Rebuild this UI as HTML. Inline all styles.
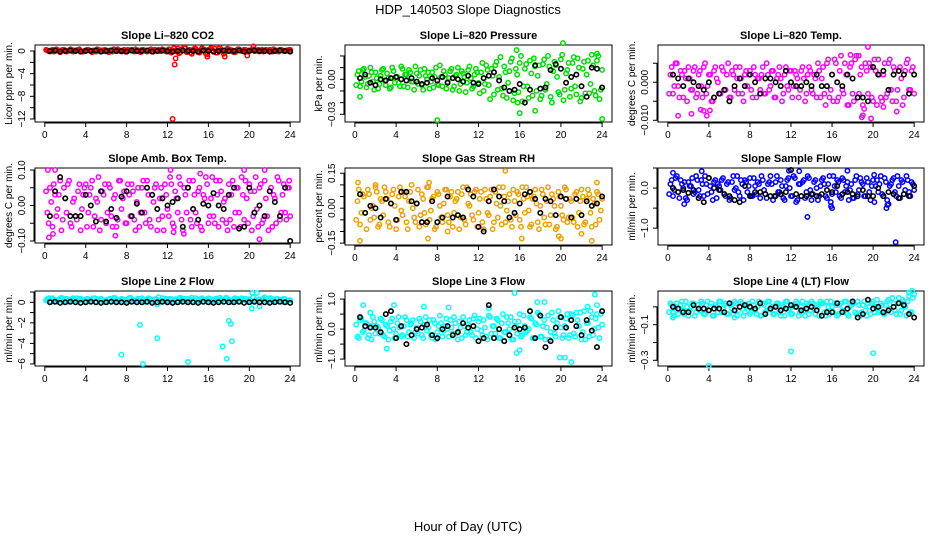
<!DOCTYPE html>
<html><head><meta charset="utf-8">
<style>
html,body{margin:0;padding:0;background:#fff;}
svg{display:block;font-family:"Liberation Sans",sans-serif;}
</style></head>
<body>
<svg id="chart" width="936" height="540" viewBox="0 0 936 540" xmlns="http://www.w3.org/2000/svg">
<text x="468" y="14" font-size="13" text-anchor="middle">HDP_140503  Slope Diagnostics</text>
<text x="468" y="531" font-size="13" text-anchor="middle">Hour of Day (UTC)</text>
</svg>
<script>
// ---------- shared hours ----------
const colorHours=[0.25,0.5,0.75,1,1.25,1.5,1.75,2,2.25,2.5,2.75,3,3.25,3.5,3.75,4,4.25,4.5,4.75,5,5.25,5.5,5.75,6,6.25,6.5,6.75,7,7.25,7.5,7.75,8,8.25,8.5,8.75,9,9.25,9.5,9.75,10,10.25,10.5,10.75,11,11.25,11.5,11.75,12,12.25,12.5,12.75,13,13.25,13.5,13.75,14,14.25,14.5,14.75,15,15.25,15.5,15.75,16,16.25,16.5,16.75,17,17.25,17.5,17.75,18,18.25,18.5,18.75,19,19.25,19.5,19.75,20,20.25,20.5,20.75,21,21.25,21.5,21.75,22,22.25,22.5,22.75,23,23.25,23.5,23.75,24];
const colorHours2=[0.125,0.375,0.625,0.875,1.125,1.375,1.625,1.875,2.125,2.375,2.625,2.875,3.125,3.375,3.625,3.875,4.125,4.375,4.625,4.875,5.125,5.375,5.625,5.875,6.125,6.375,6.625,6.875,7.125,7.375,7.625,7.875,8.125,8.375,8.625,8.875,9.125,9.375,9.625,9.875,10.125,10.375,10.625,10.875,11.125,11.375,11.625,11.875,12.125,12.375,12.625,12.875,13.125,13.375,13.625,13.875,14.125,14.375,14.625,14.875,15.125,15.375,15.625,15.875,16.125,16.375,16.625,16.875,17.125,17.375,17.625,17.875,18.125,18.375,18.625,18.875,19.125,19.375,19.625,19.875,20.125,20.375,20.625,20.875,21.125,21.375,21.625,21.875,22.125,22.375,22.625,22.875,23.125,23.375,23.625,23.875];
const blackHours=[0.5,1,1.5,2,2.5,3,3.5,4,4.5,5,5.5,6,6.5,7,7.5,8,8.5,9,9.5,10,10.5,11,11.5,12,12.5,13,13.5,14,14.5,15,15.5,16,16.5,17,17.5,18,18.5,19,19.5,20,20.5,21,21.5,22,22.5,23,23.5,24];
const xTickValues=[0,4,8,12,16,20,24];

// ---------- CO2 ----------
const co2Vals=[0.1,-0.1,0.2,0,0.1,-0.2,0.2,0.1,0,0.3,-0.1,0.1,0.2,0,-0.1,0.1,0.2,0,0.1,-0.1,0.2,0.1,0,0.1,-0.2,0.1,0.3,0,0.1,-0.1,0.2,0,0.1,0.2,-0.1,0.1,0,0.2,0.1,-0.1,0.1,0,0.2,0.1,0,0.3,0.1,-0.1,0.2,0.1,0,0.4,-0.2,0.1,0.5,0,-0.3,0.2,0.4,-0.2,0.1,0.3,-0.4,0.2,0.5,0,-0.3,0.4,0.1,-0.5,0.2,0.3,0,-0.2,0.1,0.3,0,0.2,-0.1,0.1,0.2,0,0.1,-0.1,0.2,0,0.1,0.2,-0.1,0.1,0,0.2,0.1,0,0.1,0.2];
const co2Vals2=[0.2,0,0.1,-0.1,0.3,0.1,0,0.2,-0.1,0.1,0.2,0,0.1,0.3,-0.1,0,0.2,0.1,-0.2,0.1,0.3,0,0.1,0.2,0,0.1,-0.1,0.2,0.3,0,0.1,-0.1,0.2,0.1,0,0.3,0.1,-0.2,0.2,0,0.1,0.3,-0.1,0.1,0.2,0,0.1,-0.1,0.3,-0.3,0.5,0.1,-0.4,0.3,0.6,-0.2,0.2,-0.5,0.4,0.1,-0.3,0.5,0.2,-0.6,0.3,0.1,0.4,-0.3,0.6,0.0,-0.2,0.4,0.2,0.1,-0.2,0.3,0.1,0,0.2,-0.1,0.1,0.3,0,0.2,0.1,-0.1,0.2,0.1,0,0.3,0.1,-0.1,0.2,0,0.1,0.2];
const co2Black=[0,0.1,-0.1,0,0.1,0,-0.1,0,0,0.1,-0.1,0,0.1,0,0,-0.1,0.1,0,0,0.1,-0.1,0,0.1,0,-0.1,0,0.1,0,0,-0.1,0.1,0,-0.1,0,0.1,0,0,0.1,-0.1,0,0.1,0,0,-0.1,0,0.1,0,-0.1];
const co2OutHours=[12.5,12.7,12.8,15.9,17.6,19.8,20.4];
const co2OutVals=[-12,-2.4,-1.3,-1.0,-1.0,-0.8,0.8];
// ---------- Pressure ----------
const presVals=[0.004,-0.006,0.008,0.002,-0.004,0.01,-0.002,0.006,-0.008,0.003,0.009,-0.005,0.001,-0.007,0.007,0.002,-0.003,0.011,-0.006,0.004,0.008,-0.002,-0.009,0.005,0.003,-0.005,0.009,0,-0.008,0.006,0.002,-0.004,0.012,-0.006,0.004,-0.002,0.007,-0.009,0.003,0.01,-0.004,0.005,-0.011,0.008,0.001,-0.006,0.009,-0.003,0.006,-0.01,0.012,-0.005,0.009,-0.013,0.015,0.002,-0.008,0.011,-0.016,0.007,0.018,-0.012,0.004,0.014,-0.019,0.009,-0.006,0.016,-0.014,0.011,0.003,-0.017,0.013,-0.009,0.02,-0.015,0.007,0.012,-0.011,0.017,-0.018,0.005,0.014,-0.008,0.019,-0.013,0.01,-0.016,0.015,0.004,-0.012,0.021,-0.01,0.016,-0.017,0.008];
const presVals2=[-0.005,0.007,-0.002,0.009,-0.007,0.003,0.006,-0.009,0.001,-0.004,0.008,-0.001,0.005,-0.008,0.01,-0.003,0.002,-0.006,0.009,0.004,-0.007,0.006,-0.002,0.011,-0.004,0.008,-0.009,0.003,0.006,-0.002,-0.007,0.01,-0.005,0.002,0.007,-0.008,0.001,0.009,-0.006,0.004,-0.01,0.007,0.002,-0.003,0.011,-0.008,0.004,0.006,-0.012,0.014,-0.004,0.008,-0.017,0.003,0.012,-0.009,0.019,-0.014,0.006,-0.003,0.015,-0.018,0.009,-0.011,0.02,-0.006,0.013,-0.016,0.005,0.018,-0.01,0.012,-0.014,0.017,-0.004,0.011,-0.02,0.015,0.002,-0.013,0.021,-0.009,0.008,-0.015,0.014,-0.006,0.018,-0.019,0.009,-0.012,0.016,-0.004,0.012,-0.014,0.02,-0.009];
const presBlack=[0.001,0.004,-0.003,-0.005,0,-0.001,0.001,0.002,0,-0.001,0.001,-0.002,-0.004,-0.003,0.001,-0.001,0.002,-0.003,0.001,0,-0.002,0.003,-0.003,-0.004,0.001,0.003,0.006,-0.001,-0.007,-0.01,-0.009,-0.004,-0.02,-0.009,0.012,-0.008,-0.007,0.008,0.013,0.009,-0.003,0.002,0.004,-0.006,-0.015,0.01,0.009,-0.007];
const presOutHours=[8,15.8,16,17.5,15.7,20.2,24,0.5,23.5];
const presOutVals=[-0.035,-0.02,-0.029,-0.027,0.025,0.031,-0.034,-0.015,0.022];
// ---------- Li-820 Temp ----------
const tempVals=[0.002,-0.003,0.005,-0.001,0.003,-0.004,0.001,0.004,-0.002,0.003,-0.004,0.002,-0.001,0.004,-0.003,0.002,-0.005,0.003,0.001,-0.003,0.004,-0.002,0.002,-0.004,0.003,-0.002,0.001,0.004,-0.003,0.002,-0.001,0.003,-0.004,0.002,0.001,-0.002,0.004,-0.003,0.002,-0.001,0.003,-0.004,0.002,0.001,-0.003,0.004,-0.002,0.003,-0.001,0.002,-0.004,0.003,0.001,-0.003,0.004,-0.002,0.002,-0.004,0.003,0.001,-0.003,0.005,-0.004,0.002,0.006,-0.005,0.003,-0.002,0.005,-0.006,0.004,-0.003,0.006,-0.004,0.002,-0.006,0.005,-0.003,0.004,-0.005,0.003,0.006,-0.004,0.002,-0.004,0.005,-0.002,0.004,-0.005,0.003,0.001,-0.004,0.005,-0.002,0.003,-0.003];
const tempVals2=[-0.003,0.004,-0.001,0.005,-0.004,0.002,0.003,-0.005,0.001,-0.002,0.004,-0.003,0.003,-0.004,0.005,-0.001,0.002,-0.005,0.004,0.0,-0.003,0.003,-0.002,0.005,-0.004,0.002,0.004,-0.003,0.001,-0.005,0.003,0.002,-0.002,0.004,-0.004,0.001,0.002,-0.003,0.005,-0.002,0.003,-0.004,0.001,0.004,-0.005,0.002,-0.001,0.003,-0.004,0.003,0.001,-0.002,0.004,-0.005,0.002,0.003,-0.003,0.001,0.005,-0.004,0.004,-0.006,0.006,-0.002,-0.005,0.005,-0.004,0.007,-0.003,0.002,-0.006,0.005,-0.005,0.007,-0.003,0.004,-0.007,0.003,0.005,-0.004,0.006,-0.006,0.002,-0.005,0.005,-0.003,0.006,-0.005,0.003,-0.002,0.004,-0.006,0.003,0.006,-0.002,0.004];
const tempBlack=[0.002,0.001,-0.001,0.001,0.0,-0.001,-0.002,0.0,-0.004,-0.003,-0.002,-0.005,-0.001,0.001,-0.001,0.002,0.0,-0.003,0.001,0.001,0.0,-0.001,0.003,0.0,-0.001,-0.001,0.0,-0.001,0.002,-0.001,-0.001,0.002,0.0,-0.001,0.002,0.001,-0.004,-0.004,-0.005,0.004,0.002,0.003,-0.002,0.002,0.003,0.002,-0.003,0.002];
const tempOutHours=[1,2.3,3.2,3.5,3.8,4.1,19,18.9,19.8,19.5,18.6,21,22.3,17.8];
const tempOutVals=[-0.0088,-0.0083,-0.0072,-0.0075,-0.0088,-0.0074,-0.0087,-0.0092,-0.0095,0.0093,0.007,-0.0065,-0.0077,0.0072];
// ---------- Amb Box Temp ----------
const ambVals=[-0.02,0.05,-0.06,0.03,-0.01,0.07,-0.04,0.02,0.06,-0.05,0.01,-0.03,0.04,-0.07,0.03,0.06,-0.02,0.05,-0.06,0.02,0.08,-0.04,0.03,-0.05,0.06,-0.03,0.02,-0.06,0.07,-0.01,0.04,-0.05,0.03,0.06,-0.04,0.01,-0.06,0.05,-0.02,0.07,-0.04,0.03,0.05,-0.07,0.02,-0.03,0.06,-0.01,0.08,-0.05,0.04,-0.02,0.06,-0.07,0.03,0.05,-0.04,0.07,-0.02,0.04,-0.06,0.03,0.08,-0.05,0.02,-0.03,0.07,-0.06,0.04,0.01,-0.05,0.06,0.03,-0.06,0.05,-0.02,0.08,-0.04,0.02,0.06,-0.07,0.04,-0.01,0.05,-0.05,0.07,-0.03,0.04,-0.06,0.02,0.08,-0.04,0.03,-0.02,0.05,-0.03];
const ambVals2=[0.04,-0.05,0.01,0.06,-0.03,0.03,-0.07,0.05,-0.02,0.07,-0.06,0.02,-0.04,0.06,-0.01,0.05,-0.06,0.03,0.07,-0.03,0.01,-0.07,0.04,0.06,-0.02,0.05,-0.06,0.03,-0.04,0.07,0.02,-0.05,0.06,-0.03,0.04,-0.07,0.05,-0.02,0.07,-0.05,0.03,-0.06,0.01,0.06,-0.04,0.05,-0.07,0.03,-0.03,0.06,-0.06,0.02,0.08,-0.04,0.05,-0.02,0.07,-0.06,0.03,-0.05,0.05,-0.07,0.02,0.06,-0.03,0.08,-0.05,0.03,0.07,-0.04,0.02,-0.07,-0.04,0.07,-0.02,0.05,-0.06,0.03,0.07,-0.05,0.04,-0.03,0.08,-0.06,0.06,-0.04,0.02,-0.07,0.05,0.03,-0.05,0.07,-0.02,0.06,-0.04,0.05];
const ambBlack=[-0.03,0.04,0.08,0.02,-0.03,-0.03,-0.03,0.03,0.0,-0.045,0.04,-0.045,-0.01,-0.035,0.025,0.04,-0.03,0.005,-0.02,0.05,0.03,-0.01,0.02,0.0,0.01,0.02,-0.06,0.05,-0.01,-0.04,0.005,0.0,0.035,0.0,-0.01,0.03,0.05,-0.065,-0.06,0.05,-0.02,0.0,-0.03,0.04,0.01,-0.03,0.05,-0.1];
const ambOutHours=[0.4,0.8,1,6.9,12.3,12.6,13.6,15.2,19.5,21,21.5,23.9,0.3];
const ambOutVals=[-0.09,-0.08,0.1,-0.085,0.1,-0.075,-0.08,0.09,0.1,-0.095,0.1,0.07,0.1];
// ---------- Gas Stream RH ----------
const rhVals=[0.03,-0.07,0.06,-0.02,0.08,-0.05,0.01,0.09,-0.08,0.04,-0.03,0.07,-0.06,0.02,0.08,-0.09,0.05,-0.01,0.07,-0.06,0.03,0.1,-0.04,0.02,-0.08,0.06,-0.02,0.09,-0.05,0.04,-0.09,0.07,0.01,-0.06,0.08,-0.03,0.05,-0.08,0.03,0.07,-0.04,0.09,-0.07,0.02,0.06,-0.05,0.08,-0.02,0.07,-0.09,0.04,-0.03,0.08,-0.06,0.02,0.09,-0.07,0.05,-0.01,0.06,-0.08,0.03,0.07,-0.05,0.09,-0.02,0.05,-0.08,0.04,0.08,-0.06,0.01,0.06,-0.07,0.09,-0.03,0.04,-0.09,0.07,0.01,-0.05,0.08,-0.04,0.03,-0.06,0.07,-0.02,0.08,-0.07,0.04,0.06,-0.08,0.02,0.07,-0.05,0.04];
const rhVals2=[-0.05,0.08,-0.02,0.05,-0.09,0.06,0.0,-0.04,0.07,-0.07,0.03,0.09,0.04,-0.08,0.06,0.01,-0.05,0.09,-0.03,0.05,-0.09,0.07,0.0,-0.06,0.08,-0.03,0.04,-0.07,0.09,-0.01,0.05,-0.08,0.06,-0.04,0.02,0.08,-0.06,0.07,-0.02,0.04,-0.09,0.06,-0.05,0.09,0.01,-0.03,0.07,-0.08,0.04,-0.06,0.08,-0.02,0.05,-0.09,0.07,-0.04,0.01,0.09,-0.06,0.03,-0.05,0.08,-0.03,0.06,-0.08,0.04,0.09,-0.01,-0.07,0.05,0.02,-0.09,0.08,-0.04,0.03,-0.07,0.06,0.01,-0.08,0.05,-0.03,0.09,-0.06,0.04,-0.04,0.06,-0.08,0.03,0.05,-0.06,0.08,-0.02,0.04,-0.07,0.06,-0.01];
const rhBlack=[0.06,-0.02,0.01,0.0,-0.04,0.04,0.02,-0.05,0.07,0.07,0.03,0.02,-0.06,-0.06,0.03,-0.06,-0.04,0.05,-0.04,-0.03,-0.04,0.08,0.05,-0.08,-0.1,0.03,0.08,0.05,0.03,-0.04,-0.02,0.02,0.06,0.07,0.04,-0.02,0.04,0.03,-0.03,0.05,0.04,-0.04,0.04,-0.03,0.03,0.01,0.02,0.05];
const rhOutHours=[0.3,0.5,2,7.2,7.1,14.6,16.2,19.8,22,23,23.5,20,9];
const rhOutVals=[0.11,-0.14,0.1,0.11,-0.13,0.16,-0.13,-0.12,-0.11,-0.14,0.11,-0.13,-0.1];
// ---------- Sample Flow ----------
const sfVals=[0.1,-0.2,0.25,-0.1,0.2,0.0,-0.25,0.15,0.05,-0.15,0.3,-0.05,0.2,-0.2,0.1,0.25,-0.1,0.15,-0.25,0.05,0.2,-0.15,0.1,-0.3,0.15,-0.05,0.3,-0.2,0.1,0.2,-0.1,0.25,-0.2,0.05,0.15,-0.25,0.2,-0.15,0.1,0.3,-0.3,0.15,-0.1,0.2,-0.25,0.05,0.25,-0.2,0.3,-0.35,0.1,-0.2,0.2,-0.1,0.25,-0.3,0.15,0.0,-0.2,0.2,0.1,-0.25,0.3,-0.15,0.05,0.2,-0.2,0.25,-0.1,0.15,-0.05,-0.25,0.2,-0.15,0.25,0.1,-0.2,0.15,-0.3,0.2,0.05,-0.1,0.3,-0.2,0.15,-0.4,0.1,0.25,-0.2,0.05,0.2,-0.15,0.3,-0.1,0.15,-0.05];
const sfVals2=[-0.15,0.2,-0.05,0.3,-0.25,0.1,0.15,-0.3,0.05,0.25,-0.1,0.2,-0.2,0.1,0.3,-0.15,0.05,-0.3,0.2,0.1,-0.05,0.25,-0.2,0.15,-0.25,0.3,0.0,-0.1,0.2,-0.3,0.15,0.05,-0.2,0.25,-0.15,0.1,0.3,-0.05,-0.25,0.15,0.1,-0.2,0.3,-0.1,0.05,-0.3,0.2,0.0,-0.2,0.25,-0.3,0.1,0.15,-0.25,0.3,-0.05,-0.15,0.2,-0.3,0.05,0.25,-0.2,0.1,-0.35,0.3,-0.1,0.15,-0.25,0.2,0.05,-0.3,0.1,-0.25,0.3,-0.05,0.15,-0.2,0.25,-0.1,0.05,-0.35,0.2,0.1,-0.15,0.25,-0.3,0.05,0.2,-0.1,0.3,-0.25,0.15,-0.05,0.2,-0.2,0.1];
const sfBlack=[0.0,-0.1,-0.05,-0.12,-0.05,-0.25,-0.35,0.25,0.0,-0.05,-0.15,-0.2,-0.3,-0.35,0.05,-0.2,-0.1,-0.1,-0.15,-0.2,-0.2,-0.15,-0.1,0.45,-0.15,-0.2,-0.2,-0.15,-0.2,-0.15,-0.05,-0.1,0.05,-0.15,-0.1,-0.15,-0.2,-0.05,-0.2,-0.2,0.0,-0.2,-0.1,-0.15,-0.25,-0.15,-0.2,0.05];
const sfOutHours=[0.5,3.3,1.6,13.6,15.9,16,21.3,21.4,22.2,11.8,12.8,17.5,20.1];
const sfOutVals=[0.38,0.42,-0.4,-0.72,-0.45,-0.5,-0.5,-0.42,-1.35,0.43,0.42,0.43,0.33];
// ---------- Line 2 Flow ----------
const l2Vals=[0.3,0.1,0.4,0.2,0.05,0.35,0.15,0.3,0.1,0.25,0.4,0.2,0.1,0.35,0.2,0.05,0.3,0.15,0.4,0.1,0.25,0.35,0.05,0.2,0.3,0.1,0.45,0.2,0.15,0.35,0.05,0.25,0.4,0.1,0.2,0.3,0.15,0.4,0.05,0.25,0.35,0.1,0.3,-0.2,0.2,0.4,0.1,0.25,0.35,0.05,0.3,0.15,0.45,0.2,0.1,0.35,0.25,0.05,0.4,0.15,0.3,0.1,0.25,0.4,0.05,0.2,0.35,0.15,0.3,0.1,0.45,0.2,0.05,0.35,0.25,0.1,0.4,0.2,0.15,0.3,-0.6,0.1,0.9,-0.4,0.3,0.5,0.15,0.4,0.2,0.1,0.35,0.25,0.05,0.3,0.15,0.2];
const l2Vals2=[0.2,0.4,0.05,0.3,0.15,0.25,0.45,0.1,0.35,0.05,0.2,0.3,0.4,0.15,0.25,0.05,0.35,0.2,0.1,0.4,0.3,0.05,0.25,0.15,0.05,0.35,0.2,0.4,0.1,0.25,0.3,0.15,0.05,0.45,0.2,0.1,0.35,0.05,0.25,0.15,0.4,0.2,0.1,0.3,0.5,0.05,0.15,0.35,0.1,0.3,0.2,0.05,0.4,0.25,0.35,0.1,0.15,0.45,0.2,0.05,0.25,0.4,0.1,0.2,0.35,0.05,0.3,0.15,0.45,0.25,0.1,0.35,0.2,0.05,0.4,0.3,0.1,0.25,0.35,0.15,0.05,0.5,0.2,0.3,0.1,0.35,0.2,0.05,0.4,0.15,0.3,0.1,0.25,0.35,0.05,0.2];
const l2Black=[0,0.05,-0.05,0,0.05,0,-0.05,0,0.05,0,-0.05,0,0.05,0,0,-0.05,0.05,0,0,0.05,-0.05,0,0.05,0,-0.05,0,0.05,0,0,-0.05,0.05,0,-0.05,0,0.05,0,0,0.05,-0.05,0,0.05,0,0,-0.05,0,0.05,0,-0.05];
const l2OutHours=[7.5,9.3,9.6,11,14,17.4,17.8,18,18.2,18.3,20.3];
const l2OutVals=[-5.1,-2.2,-6.0,-3.5,-5.8,-4.3,-5.5,-1.8,-2.1,-3.8,0.9];
// ---------- Line 3 Flow ----------
const l3Vals=[-0.25,0.3,-0.1,0.2,-0.3,0.1,0.4,-0.15,0.05,0.35,-0.2,0.15,-0.35,0.25,0.0,-0.15,0.4,-0.25,0.1,0.3,-0.1,0.2,-0.3,0.05,0.35,-0.2,0.15,-0.05,0.3,-0.3,0.2,-0.1,0.45,-0.25,0.1,0.0,0.3,-0.15,0.2,-0.35,0.05,0.4,-0.2,0.15,-0.1,0.35,-0.3,0.25,-0.05,0.3,-0.25,0.45,-0.15,0.1,0.35,-0.3,0.2,-0.1,0.4,0.0,-0.35,0.25,-0.15,0.5,-0.2,0.1,-0.05,0.4,-0.3,0.2,0.55,-0.25,0.1,-0.35,0.45,-0.1,0.3,-0.25,0.6,0.05,-0.2,0.35,-0.3,0.5,-0.15,0.55,0.1,-0.35,0.6,0.2,-0.25,0.4,0.0,0.5,-0.3,0.15];
const l3Vals2=[0.15,-0.3,0.35,-0.05,0.2,-0.2,-0.35,0.25,0.1,-0.15,0.3,-0.25,0.1,-0.05,0.35,-0.3,0.2,0.05,-0.2,0.4,-0.25,0.15,0.3,-0.1,-0.15,0.25,-0.3,0.4,0.05,-0.2,0.3,-0.35,0.1,0.2,-0.05,0.35,-0.25,0.05,0.4,-0.15,0.25,-0.3,0.1,-0.1,0.3,-0.2,0.45,0.0,0.35,-0.2,0.05,-0.35,0.4,0.1,-0.15,0.3,-0.3,0.5,-0.1,0.2,0.4,-0.35,0.1,0.25,-0.25,0.45,-0.1,0.0,0.35,-0.3,0.15,0.5,-0.25,0.3,0.05,-0.35,0.55,-0.15,0.2,0.4,-0.3,0.1,0.5,-0.2,0.45,-0.25,0.3,0.55,-0.1,-0.35,0.2,0.6,-0.2,0.35,0.05,0.5];
const l3Black=[0.4,0.1,0.05,0.05,-0.1,0.5,0.6,-0.3,0.1,-0.5,-0.2,0.0,0.05,0.15,-0.2,-0.3,0.0,0.1,-0.2,-0.1,0.2,0.05,0.1,-0.4,-0.3,0.8,-0.3,0.0,-0.4,-0.2,0.05,0.0,0.05,0.6,-0.3,0.45,-0.6,-0.4,0.05,0.4,0.05,0.3,0.1,-0.2,0.3,-0.05,-0.6,0.6];
const l3OutHours=[0.8,1.5,3.1,6.7,13,15.5,15.7,16,17.7,18.4,19.9,20.4,21,22.6,23.3,23.5,3.8,9.1];
const l3OutVals=[0.8,0.55,-0.65,0.75,0.7,1.2,-0.8,-0.7,0.9,0.9,-0.95,-0.95,-1.1,0.75,1.15,0.8,0.8,0.72];
// ---------- Line 4 Flow ----------
const l4Vals=[0.02,-0.03,0.0,-0.04,0.01,-0.02,0.03,-0.05,0.0,0.02,-0.03,-0.01,0.03,-0.04,0.01,-0.02,0.02,-0.05,0.0,0.03,-0.03,0.01,-0.04,0.02,-0.01,0.03,-0.05,0.0,0.02,-0.03,0.01,-0.04,0.03,-0.02,0.0,-0.05,0.02,-0.03,0.03,-0.01,-0.04,0.01,0.02,-0.05,0.0,0.03,-0.02,-0.04,0.01,0.03,-0.05,0.0,-0.02,0.02,-0.04,0.03,-0.01,0.01,-0.05,0.02,-0.03,0.03,-0.04,0.0,0.02,-0.05,0.01,-0.02,0.03,-0.04,0.0,0.02,-0.03,0.03,-0.05,0.01,-0.02,0.02,-0.04,0.03,0.0,-0.03,0.02,-0.04,0.01,0.04,-0.03,0.02,-0.04,0.05,-0.02,0.03,-0.05,0.06,-0.03,0.07];
const l4Vals2=[-0.03,0.01,-0.05,0.02,-0.01,0.03,-0.04,0.0,-0.02,0.02,-0.05,0.01,-0.02,0.02,-0.04,0.03,0.0,-0.05,0.01,-0.03,0.03,-0.01,0.02,-0.04,0.01,-0.04,0.02,-0.02,0.03,-0.05,0.0,0.02,-0.03,0.01,-0.04,0.03,-0.05,0.01,-0.02,0.03,0.0,-0.04,0.02,-0.03,0.01,-0.05,0.03,-0.01,-0.04,0.0,0.02,-0.03,0.03,-0.05,0.01,-0.02,0.02,-0.04,0.0,0.03,0.02,-0.05,0.0,0.03,-0.03,0.01,-0.04,0.02,-0.02,0.03,-0.05,0.01,0.02,-0.04,0.01,-0.03,0.03,-0.05,0.0,0.02,-0.03,0.04,-0.02,0.01,-0.04,0.03,-0.01,0.05,-0.02,0.02,-0.04,0.04,0.0,0.03,-0.03,0.05];
const l4Black=[0.0,-0.01,-0.03,-0.03,0.01,-0.01,-0.01,-0.02,-0.01,-0.01,-0.03,0.02,-0.02,0.0,0.01,0.0,-0.01,0.02,-0.04,-0.01,0.0,-0.02,-0.01,0.01,0.0,-0.02,-0.01,0.0,-0.02,-0.05,-0.03,-0.03,0.02,-0.03,-0.01,0.03,-0.06,-0.04,0.04,-0.01,0.0,-0.03,-0.02,0.0,0.02,0.01,-0.04,-0.06];
const l4OutHours=[0.5,4,12,20,23.8,23.5,6.5];
const l4OutVals=[-0.06,-0.33,-0.25,-0.26,0.09,0.08,-0.06];

// ---------- y tick arrays ----------
const co2Ticks=[-12,-10,-8,-6,-4,-2,0], co2Labels=[-12,-8,-4,0];
const presTicks=[-0.03,-0.02,-0.01,0,0.01,0.02], presLabels=[-0.03,0];
const tempTicks=[-0.01,-0.005,0,0.005], tempLabels=[-0.01,0];
const ambTicks=[-0.1,-0.05,0,0.05,0.1], ambLabels=[-0.1,0,0.1];
const rhTicks=[-0.15,-0.1,-0.05,0,0.05,0.1,0.15], rhLabels=[-0.15,0,0.15];
const sfTicks=[-1,-0.5,0,0.5], sfLabels=[-1,0];
const l2Ticks=[-6,-5,-4,-3,-2,-1,0,1], l2Labels=[-6,-4,-2,0];
const l3Ticks=[-1,-0.5,0,0.5,1], l3Labels=[-1,0,1];
const l4Ticks=[-0.3,-0.2,-0.1,0], l4Labels=[-0.3,-0.1];

const panels=[
 {name:'co2',title:'Slope Li\u2013820 CO2',ylab:'Licor ppm per min.',box:[35,45,300,122],ylim:[-12.53,1.06],col:'#ff0000',v:co2Vals,v2:co2Vals2,b:co2Black,oh:co2OutHours,ov:co2OutVals,ticks:co2Ticks,labels:co2Labels,dec:0},
 {name:'pressure',title:'Slope Li\u2013820 Pressure',ylab:'kPa per min.',box:[345,45,612,122],ylim:[-0.0366,0.0294],col:'#00dd00',v:presVals,v2:presVals2,b:presBlack,oh:presOutHours,ov:presOutVals,ticks:presTicks,labels:presLabels,dec:2},
 {name:'li820-temp',title:'Slope Li\u2013820 Temp.',ylab:'degrees C per min.',box:[658,45,924,122],ylim:[-0.01045,0.0098],col:'#ff00ff',v:tempVals,v2:tempVals2,b:tempBlack,oh:tempOutHours,ov:tempOutVals,ticks:tempTicks,labels:tempLabels,dec:3},
 {name:'amb-box-temp',title:'Slope Amb. Box Temp.',ylab:'degrees C per min.',box:[35,168,300,243],ylim:[-0.1056,0.1056],col:'#ff00ff',v:ambVals,v2:ambVals2,b:ambBlack,oh:ambOutHours,ov:ambOutVals,ticks:ambTicks,labels:ambLabels,dec:2},
 {name:'gas-stream-rh',title:'Slope Gas Stream RH',ylab:'percent per min.',box:[345,168,612,245],ylim:[-0.158,0.1725],col:'#f0a000',v:rhVals,v2:rhVals2,b:rhBlack,oh:rhOutHours,ov:rhOutVals,ticks:rhTicks,labels:rhLabels,dec:2},
 {name:'sample-flow',title:'Slope Sample Flow',ylab:'ml/min per min.',box:[658,168,924,245],ylim:[-1.42,0.5],col:'#0000ff',v:sfVals,v2:sfVals2,b:sfBlack,oh:sfOutHours,ov:sfOutVals,ticks:sfTicks,labels:sfLabels,dec:1},
 {name:'line2-flow',title:'Slope Line 2 Flow',ylab:'ml/min per min.',box:[35,291,300,366],ylim:[-6.2,1.1],col:'#00ffff',v:l2Vals,v2:l2Vals2,b:l2Black,oh:l2OutHours,ov:l2OutVals,ticks:l2Ticks,labels:l2Labels,dec:0},
 {name:'line3-flow',title:'Slope Line 3 Flow',ylab:'ml/min per min.',box:[345,291,612,366],ylim:[-1.23,1.27],col:'#00ffff',v:l3Vals,v2:l3Vals2,b:l3Black,oh:l3OutHours,ov:l3OutVals,ticks:l3Ticks,labels:l3Labels,dec:1},
 {name:'line4-flow',title:'Slope Line 4 (LT) Flow',ylab:'ml/min per min.',box:[658,291,924,366],ylim:[-0.332,0.089],col:'#00ffff',v:l4Vals,v2:l4Vals2,b:l4Black,oh:l4OutHours,ov:l4OutVals,ticks:l4Ticks,labels:l4Labels,dec:1}
];

const NS='http://www.w3.org/2000/svg';
const svg=document.getElementById('chart');
function mk(tag,attrs,parent){const e=document.createElementNS(NS,tag);for(const k in attrs)e.setAttribute(k,attrs[k]);(parent||svg).appendChild(e);return e;}
function fmt(v,d){const s=Math.abs(v).toFixed(d);return (v<0?'\u2212':'')+s;}

panels.forEach(p=>{
  const [L,T,R,B]=p.box;
  const xS=h=>L+(h+0.96)/(25.92)*(R-L);
  const yS=v=>B-(v-p.ylim[0])/(p.ylim[1]-p.ylim[0])*(B-T);
  const g=mk('g',{});
  
  
  const t=mk('text',{x:(L+R)/2,y:T-6,'font-size':11,'font-weight':'bold','text-anchor':'middle'},g);
  t.textContent=p.title;
  
  
  const bx=mk('rect',{x:L,y:T,width:R-L,height:B-T,fill:'none',stroke:'#000','stroke-width':1},g);
  
  
  const xa=mk('g',{},g);
  
  
  mk('line',{x1:xS(xTickValues[0]),x2:xS(xTickValues[xTickValues.length-1]),y1:B+1,y2:B+1,stroke:'#000'},xa);
  xTickValues.forEach(h=>{
    mk('line',{x1:xS(h),x2:xS(h),y1:B,y2:B+5,stroke:'#000'},xa);
    const tl=mk('text',{x:xS(h),y:B+16,'font-size':10,'text-anchor':'middle'},xa);
    tl.textContent=h;
    
    
  });
  const ya=mk('g',{},g);
  
  
  mk('line',{x1:L-1,x2:L-1,y1:yS(p.ticks[0]),y2:yS(p.ticks[p.ticks.length-1]),stroke:'#000'},ya);
  p.ticks.forEach(v=>mk('line',{x1:L-5,x2:L,y1:yS(v),y2:yS(v),stroke:'#000'},ya));
  p.labels.forEach(v=>{
    const x=L-10,y=yS(v);
    const tl=mk('text',{x:x,y:y,'font-size':10,'text-anchor':'middle',transform:`rotate(-90 ${x} ${y})`},ya);
    tl.textContent=fmt(v,p.dec);
    
    
  });
  const yl=mk('text',{x:0,y:0,'font-size':10,'text-anchor':'middle',transform:`translate(${L-23},${(T+B)/2}) rotate(-90)`},g);
  yl.textContent=p.ylab;
  
  
  const cg=mk('g',{fill:'none',stroke:p.col,'stroke-width':1.5},g);
  
  
  for(let i=0;i<Math.min(colorHours.length,p.v.length);i++){
    const c=mk('circle',{cx:xS(colorHours[i]),cy:yS(p.v[i]),r:2.2},cg);
    
    
  }
  for(let i=0;i<Math.min(colorHours2.length,p.v2.length);i++){
    const c=mk('circle',{cx:xS(colorHours2[i]),cy:yS(p.v2[i]),r:2.2},cg);
    
    
  }
  for(let i=0;i<Math.min(p.oh.length,p.ov.length);i++){
    const c=mk('circle',{cx:xS(p.oh[i]),cy:yS(p.ov[i]),r:2.2},cg);
    
    
  }
  const bg=mk('g',{fill:'none',stroke:'#000','stroke-width':1.6},g);
  
  
  for(let i=0;i<Math.min(blackHours.length,p.b.length);i++){
    const c=mk('circle',{cx:xS(blackHours[i]),cy:yS(p.b[i]),r:2.2},bg);
    
    
  }
});
</script>
</body></html>
